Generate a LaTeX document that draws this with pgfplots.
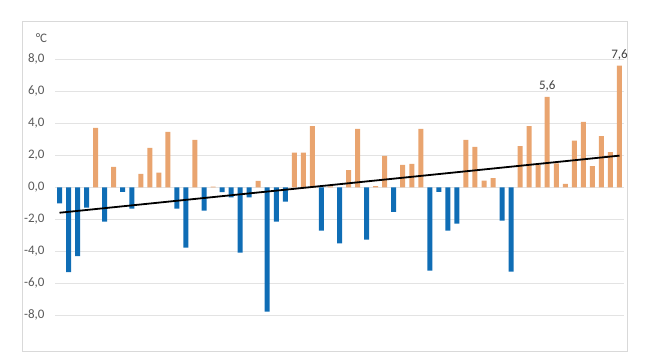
\documentclass[border=0pt]{standalone}
\usepackage{pgfplots}
\pgfplotsset{compat=1.18}
\usepackage{fontspec}
\setmainfont{Carlito}
\definecolor{barblue}{HTML}{0F6DB5}
\definecolor{barorange}{HTML}{E9A46F}
\definecolor{gridgray}{HTML}{E3E3E3}
\definecolor{framegray}{HTML}{D9D9D9}
\definecolor{ticktext}{HTML}{595959}
\definecolor{labeltext}{HTML}{404040}
\begin{document}
\begin{tikzpicture}
\path[use as bounding box] (-55pt,-12.7pt) rectangle (603pt,347.3pt);
\draw[framegray, line width=1pt] (-32.7pt,-3.7pt) rectangle (572pt,326pt);
\begin{axis}[
  at={(0,0)}, anchor=south west,
  scale only axis,
  width=569pt, height=320pt,
  xmin=0.5, xmax=63.5,
  ymin=-10, ymax=10,
  ytick={-8,-6,...,8},
  xtick=\empty,
  ymajorgrids,
  grid style={gridgray, line width=0.8pt},
  axis line style={draw=none},
  major tick length=0pt,
  clip=false,
  font=\fontsize{13}{15}\selectfont,
  yticklabel style={ticktext, xshift=-7pt},
  /pgf/number format/.cd, use comma, fixed, fixed zerofill, precision=1, assume math mode=true,
]
\addplot[ybar, bar shift=0pt, bar width=5pt, fill=barblue, draw=none] coordinates {
(1,-1.0) (2,-5.3) (3,-4.3) (4,-1.27) (6,-2.15) (8,-0.28) (9,-1.33)
(14,-1.33) (15,-3.77) (17,-1.46) (19,-0.3) (20,-0.63) (21,-4.08) (22,-0.63)
(24,-7.77) (25,-2.15) (26,-0.9) (30,-2.7) (32,-3.5) (35,-3.27) (38,-1.53)
(42,-5.2) (43,-0.28) (44,-2.7) (45,-2.27) (50,-2.08) (51,-5.27)
};
\addplot[ybar, bar shift=0pt, bar width=5pt, fill=barorange, draw=none] coordinates {
(5,3.71) (7,1.27) (10,0.84) (11,2.47) (12,0.91) (13,3.46) (16,2.96) (18,0.05)
(23,0.4) (27,2.17) (28,2.17) (29,3.83) (31,0.06) (33,1.08) (34,3.65) (36,0.08)
(37,1.97) (39,1.4) (40,1.46) (41,3.65) (46,2.96) (47,2.52) (48,0.42) (49,0.57)
(52,2.58) (53,3.83) (54,1.4) (55,5.65) (56,1.5) (57,0.21) (58,2.92) (59,4.09)
(60,1.33) (61,3.2) (62,2.2) (63,7.6)
};
\addplot[black, line width=1.8pt] coordinates {(1,-1.59) (63,1.98)};
\addplot[only marks, mark=none, nodes near coords, point meta=explicit symbolic,
  every node near coord/.append style={labeltext, yshift=2pt, font=\fontsize{13}{15}\selectfont}]
  coordinates {(55,5.65)[5,6] (63,7.6)[7,6]};
\end{axis}
\node[ticktext, font=\fontsize{13}{15}\selectfont] at (-13.5pt,309.3pt) {°C};
\end{tikzpicture}
\end{document}
